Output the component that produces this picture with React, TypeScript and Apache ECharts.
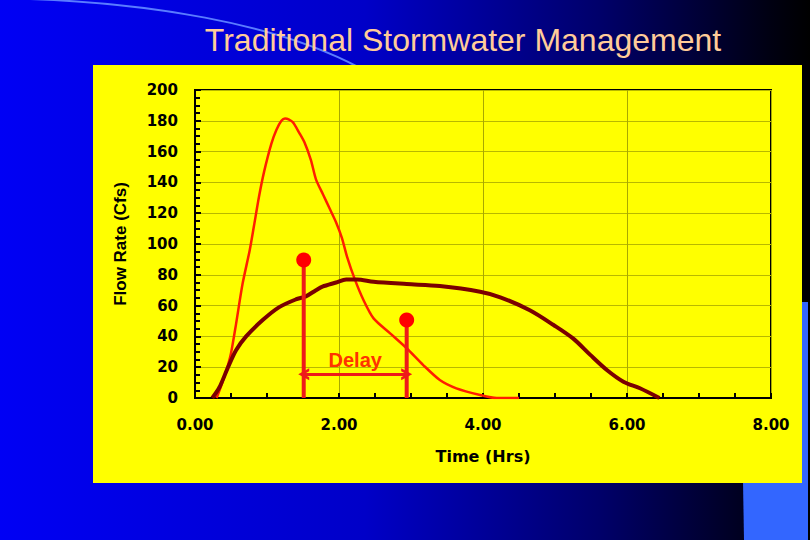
import React, { useEffect, useRef } from "react";
import * as echarts from "echarts";

const titleText = "Traditional Stormwater Management";
const xAxisName = "Time (Hrs)";
const yAxisName = "Flow Rate (Cfs)";
const delayLabel = "Delay";

// Traditional (undetained) hydrograph: [hours, cfs]
const traditionalFlow: [number, number][] = [
  [0.3, 0], [0.38, 10], [0.45, 20], [0.5, 29], [0.57, 48], [0.66, 74], [0.76, 96],
  [0.82, 112], [0.89, 131], [0.96, 147], [1.06, 165], [1.13, 174], [1.2, 180],
  [1.25, 181.5], [1.3, 181], [1.36, 179], [1.45, 172], [1.52, 166], [1.61, 154.5],
  [1.68, 142], [1.78, 132], [1.87, 123], [1.96, 114], [2.04, 104], [2.11, 92],
  [2.22, 77], [2.34, 63.6], [2.48, 51.7], [2.71, 42], [2.94, 32.3], [3.17, 21.4],
  [3.4, 11.7], [3.63, 6.3], [3.96, 2], [4.19, 0], [4.5, 0],
];

// Detained hydrograph: [hours, cfs]
const detainedFlow: [number, number][] = [
  [0.24, 0], [0.34, 7], [0.45, 19], [0.57, 31], [0.71, 40], [0.94, 50.6],
  [1.17, 59], [1.4, 64], [1.54, 66], [1.68, 70], [1.77, 72.3], [1.96, 75],
  [2.1, 77], [2.25, 77], [2.48, 75.5], [2.94, 74], [3.4, 72.7], [3.96, 69],
  [4.24, 65.4], [4.65, 57], [4.98, 47.4], [5.25, 38.7], [5.49, 28], [5.72, 18.2],
  [5.95, 10.6], [6.18, 6.3], [6.45, 0],
];

// Delay markers: [hours, height of marker]
const delayStart: [number, number] = [1.51, 89.6];
const delayEnd: [number, number] = [2.94, 50.6];
const delayArrowLevel = 15.5;

const chevron = "path://M0,12 L6,0 L12,12 L9,12 L6,6 L3,12 Z";

export default function App() {
  const ref = useRef<HTMLDivElement>(null);

  useEffect(() => {
    if (!ref.current) return;
    const chart = echarts.init(ref.current, null, { renderer: "svg" });
    const stemColor = "#ee1a1a";
    const option: any = {
      animation: false,
      graphic: [
        {
          type: "rect",
          z: -100,
          shape: { x: 0, y: 0, width: 810, height: 540 },
          style: {
            fill: {
              type: "linear",
              x: 0, y: 0, x2: 1, y2: 0,
              colorStops: [
                { offset: 0, color: "#0000f5" },
                { offset: 0.45, color: "#0000c8" },
                { offset: 0.74, color: "#00006a" },
                { offset: 0.95, color: "#000012" },
                { offset: 1, color: "#000000" },
              ],
            },
          },
        },
        {
          type: "bezierCurve",
          z: -98,
          shape: { x1: -10, y1: -2, cpx1: 150, cpy1: 0, cpx2: 280, cpy2: 25, x2: 360, y2: 68 },
          style: { stroke: "#5a7cff", lineWidth: 2, fill: "none" },
        },
        {
          type: "polygon",
          z: -96,
          shape: { points: [[740, 302], [808, 302], [808, 540], [744, 540]] },
          style: { fill: "#3366ff" },
        },
        {
          type: "rect",
          z: -90,
          shape: { x: 93, y: 65, width: 709, height: 418 },
          style: { fill: "#ffff00" },
        },
        {
          type: "text",
          z: -80,
          x: 463,
          y: 40,
          style: {
            text: titleText,
            fill: "#ffcc99",
            fontSize: 32,
            fontFamily: "Arial, Liberation Sans, sans-serif",
            textAlign: "center",
            textVerticalAlign: "middle",
          },
        },
      ],
      grid: {
        left: 195,
        right: 39,
        top: 90,
        bottom: 142,
        show: true,
        borderColor: "#000000",
        borderWidth: 2,
        backgroundColor: "transparent",
      },
      xAxis: {
        type: "value",
        min: 0,
        max: 8,
        interval: 2,
        name: xAxisName,
        nameLocation: "middle",
        nameGap: 50,
        nameTextStyle: {
          color: "#000",
          fontSize: 16,
          fontWeight: "bold",
          fontFamily: "DejaVu Sans",
        },
        axisLine: { show: true, onZero: false, lineStyle: { color: "#000", width: 2 } },
        axisTick: { show: true, inside: true, length: 5, lineStyle: { color: "#000", width: 2 } },
        minorTick: { show: true, splitNumber: 4, length: 5, lineStyle: { color: "#000", width: 2 } },
        axisLabel: {
          color: "#000",
          fontSize: 15,
          fontWeight: "bold",
          fontFamily: "DejaVu Sans",
          margin: 19,
          formatter: (v: number) => v.toFixed(2),
        },
        splitLine: { show: true, lineStyle: { color: "#a8a800", width: 1 } },
      },
      yAxis: {
        type: "value",
        min: 0,
        max: 200,
        interval: 20,
        name: yAxisName,
        nameLocation: "middle",
        nameGap: 66,
        nameTextStyle: {
          color: "#000",
          fontSize: 17,
          fontWeight: "bold",
          fontFamily: "Arial, Liberation Sans, sans-serif",
        },
        axisLine: { show: true, lineStyle: { color: "#000", width: 2 } },
        axisTick: { show: true, inside: true, length: 6, lineStyle: { color: "#000", width: 2 } },
        minorTick: { show: true, splitNumber: 4, length: 5, lineStyle: { color: "#000", width: 2 } },
        axisLabel: {
          color: "#000",
          fontSize: 15,
          fontWeight: "bold",
          fontFamily: "DejaVu Sans",
          margin: 17,
        },
        splitLine: { show: true, lineStyle: { color: "#b8b800", width: 1 } },
      },
      series: [
        {
          name: "Traditional",
          type: "line",
          data: traditionalFlow,
          smooth: 0.25,
          showSymbol: false,
          lineStyle: { color: "#ff1e00", width: 2.5 },
          z: 3,
        },
        {
          name: "Detained",
          type: "line",
          data: detainedFlow,
          smooth: 0.3,
          showSymbol: false,
          lineStyle: { color: "#7a0000", width: 4 },
          z: 4,
        },
        {
          name: "Delay start",
          type: "line",
          data: [
            { value: [delayStart[0], 0], symbol: "none" },
            { value: delayStart, symbol: "circle", symbolSize: 15 },
          ],
          lineStyle: { color: stemColor, width: 4 },
          itemStyle: { color: "#ff0000" },
          z: 5,
          markLine: {
            silent: true,
            symbol: [chevron, chevron],
            symbolSize: [12, 11],
            lineStyle: { color: stemColor, width: 3, type: "solid" },
            label: {
              show: true,
              position: "middle",
              formatter: delayLabel,
              color: "#ff3300",
              fontSize: 20,
              fontWeight: "bold",
              fontFamily: "Arial, Liberation Sans, sans-serif",
              distance: 4,
            },
            data: [
              [
                { coord: [delayStart[0], delayArrowLevel] },
                { coord: [delayEnd[0], delayArrowLevel] },
              ],
            ],
          },
        },
        {
          name: "Delay end",
          type: "line",
          data: [
            { value: [delayEnd[0], 0], symbol: "none" },
            { value: delayEnd, symbol: "circle", symbolSize: 15 },
          ],
          lineStyle: { color: stemColor, width: 4 },
          itemStyle: { color: "#ff0000" },
          z: 5,
        },
      ],
    };
    chart.setOption(option);
    return () => chart.dispose();
  }, []);

  return (
    <div
      ref={ref}
      style={{ position: "absolute", left: 0, top: 0, width: 810, height: 540 }}
    />
  );
}
